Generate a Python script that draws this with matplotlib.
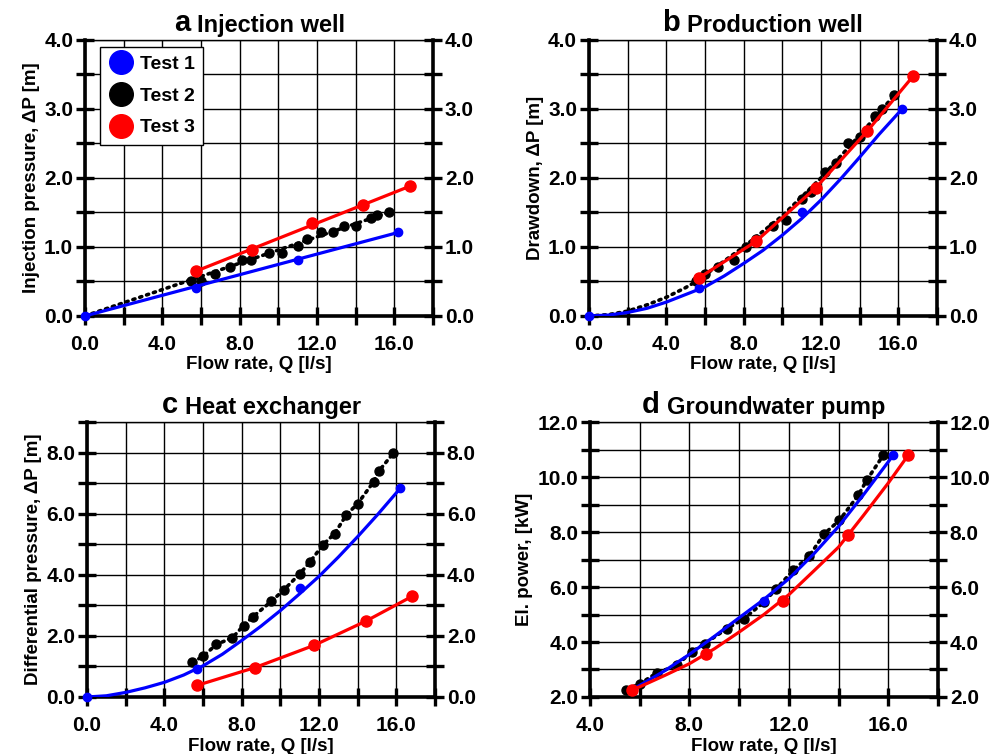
import numpy as np
import matplotlib
matplotlib.use('Agg')
import matplotlib.pyplot as plt
from matplotlib.ticker import MultipleLocator, FormatStrFormatter
from matplotlib.lines import Line2D

plt.rcParams['font.family'] = ['Liberation Sans', 'DejaVu Sans']
plt.rcParams['font.weight'] = 'bold'
plt.rcParams['axes.labelweight'] = 'bold'

# a - injection well (measured points)
a_q1 = [0.0, 5.75, 11.0, 16.2]
a_p1 = [0.0, 0.40, 0.81, 1.21]
a_q2 = [5.5, 6.0, 6.7, 7.5, 8.1, 8.6, 9.5, 10.2, 11.0, 11.5, 12.2, 12.8, 13.4, 14.0, 14.8, 15.1, 15.7]
a_p2 = [0.51, 0.51, 0.61, 0.71, 0.81, 0.81, 0.91, 0.91, 1.01, 1.11, 1.21, 1.21, 1.30, 1.30, 1.42, 1.46, 1.51]
a_q3 = [5.75, 8.66, 11.75, 14.4, 16.8]
a_p3 = [0.65, 0.96, 1.35, 1.61, 1.88]
# a - fitted lines
a_fq1, a_fp1 = [0.0, 16.2], [0.0, 1.21]
a_fq2, a_fp2 = [0.0, 15.7], [0.0, 1.50]
a_fq3, a_fp3 = [5.75, 16.8], [0.65, 1.88]

# b - production well
b_q1 = [0.0, 5.71, 11.0, 16.2]
b_p1 = [0.0, 0.40, 1.51, 3.0]
b_q2 = [5.54, 6.02, 6.7, 7.5, 8.1, 8.64, 9.5, 10.2, 11.0, 11.5, 12.2, 12.8, 13.4, 14.0, 14.8, 15.15, 15.8]
b_p2 = [0.50, 0.61, 0.715, 0.81, 1.0, 1.11, 1.30, 1.39, 1.70, 1.80, 2.09, 2.21, 2.5, 2.6, 2.9, 3.0, 3.2]
b_q3 = [5.71, 8.64, 11.74, 14.4, 16.78]
b_p3 = [0.555, 1.08, 1.86, 2.68, 3.48]
b_fq1 = [0, 1, 2, 3, 4, 5, 6, 7, 8, 9, 10, 11, 12, 13, 14, 15, 16.2]
b_fp1 = [0, 0.012, 0.05, 0.11, 0.2, 0.31, 0.42, 0.58, 0.76, 0.95, 1.17, 1.41, 1.68, 1.98, 2.3, 2.63, 3.0]
b_fq2 = [0, 1, 2, 3, 4, 5, 5.54, 8, 10, 12, 14, 15.8]
b_fp2 = [0, 0.018, 0.07, 0.16, 0.27, 0.41, 0.5, 1.0, 1.45, 2.0, 2.62, 3.2]
b_fq3, b_fp3 = b_q3, b_p3

# c - heat exchanger
c_q1 = [0.0, 5.69, 11.03, 16.2]
c_p1 = [0.0, 0.92, 3.57, 6.83]
c_q2 = [5.45, 6.0, 6.69, 7.52, 8.1, 8.59, 9.53, 10.17, 11.0, 11.52, 12.2, 12.81, 13.41, 14.0, 14.83, 15.1, 15.83]
c_p2 = [1.14, 1.33, 1.72, 1.94, 2.34, 2.63, 3.13, 3.50, 4.03, 4.41, 4.98, 5.35, 5.96, 6.33, 7.05, 7.40, 7.97]
c_q3 = [5.69, 8.67, 11.74, 14.41, 16.83]
c_p3 = [0.38, 0.96, 1.69, 2.48, 3.30]
c_fq1 = [0, 1, 2, 3, 4, 5, 5.69, 6, 7, 8, 9, 10, 11, 12, 13, 14, 15, 16.2]
c_fp1 = [0, 0.04, 0.15, 0.3, 0.48, 0.72, 0.93, 1.02, 1.4, 1.85, 2.32, 2.83, 3.38, 3.95, 4.58, 5.25, 5.95, 6.83]
c_fq2, c_fp2 = c_q2, c_p2
c_fq3, c_fp3 = c_q3, c_p3

# d - groundwater pump
d_q1 = [5.68, 11.01, 16.2]
d_p1 = [2.27, 5.49, 10.79]
d_q2 = [5.47, 6.01, 6.68, 7.49, 8.09, 8.62, 9.5, 10.2, 11.0, 11.5, 12.18, 12.82, 13.41, 14.03, 14.79, 15.13, 15.8]
d_p2 = [2.27, 2.48, 2.87, 3.15, 3.64, 3.94, 4.48, 4.85, 5.45, 5.94, 6.61, 7.12, 7.92, 8.42, 9.33, 9.88, 10.79]
d_q3 = [5.68, 8.65, 11.75, 14.39, 16.8]
d_p3 = [2.27, 3.58, 5.49, 7.88, 10.79]
d_fq1 = [5.68, 6, 7, 8, 9, 10, 11, 12, 13, 14, 15, 16.2]
d_fp1 = [2.27, 2.42, 2.95, 3.55, 4.2, 4.88, 5.55, 6.3, 7.2, 8.2, 9.35, 10.79]
d_fq2, d_fp2 = d_q2, d_p2
d_fq3 = [5.68, 6, 7, 8, 9, 10, 11, 12, 13, 14, 15, 16, 16.8]
d_fp3 = [2.27, 2.37, 2.78, 3.21, 3.75, 4.36, 5.0, 5.72, 6.58, 7.45, 8.6, 9.78, 10.79]

panels = [
    ('a', 'Injection well', 'Injection pressure, ΔP [m]', (0, 18), (0, 4), 4, 1.0,
     [a_q1, a_p1, a_fq1, a_fp1], [a_q2, a_p2, a_fq2, a_fp2], [a_q3, a_p3, a_fq3, a_fp3]),
    ('b', 'Production well', 'Drawdown, ΔP [m]', (0, 18), (0, 4), 4, 1.0,
     [b_q1, b_p1, b_fq1, b_fp1], [b_q2, b_p2, b_fq2, b_fp2], [b_q3, b_p3, b_fq3, b_fp3]),
    ('c', 'Heat exchanger', 'Differential pressure, ΔP [m]', (0, 18), (0, 9), 4, 2.0,
     [c_q1, c_p1, c_fq1, c_fp1], [c_q2, c_p2, c_fq2, c_fp2], [c_q3, c_p3, c_fq3, c_fp3]),
    ('d', 'Groundwater pump', 'El. power, [kW]', (4, 18), (2, 12), 4, 2.0,
     [d_q1, d_p1, d_fq1, d_fp1], [d_q2, d_p2, d_fq2, d_fp2], [d_q3, d_p3, d_fq3, d_fp3]),
]

positions = [[0.0846, 0.581, 0.3463, 0.366],
             [0.586, 0.581, 0.3463, 0.366],
             [0.0866, 0.0756, 0.3463, 0.3647],
             [0.587, 0.0756, 0.3463, 0.3647]]

fig = plt.figure(figsize=(10.05, 7.54), dpi=100)

for pos, (letter, title, ylabel, xlim, ylim, xmaj, ymaj, t1, t2, t3) in zip(positions, panels):
    ax = fig.add_axes(pos)
    # Test 2 (black, dotted)
    ax.plot(t2[2], t2[3], color='black', lw=2.6, linestyle=(0, (0.6, 1.4)),
            dash_capstyle='round', zorder=3)
    ax.plot(t2[0], t2[1], 'o', color='black', ms=6.5, zorder=4, clip_on=False)
    # Test 1 (blue)
    ax.plot(t1[2], t1[3], color='blue', lw=2.3, zorder=5)
    ax.plot(t1[0], t1[1], 'o', color='blue', ms=6, zorder=5, clip_on=False)
    # Test 3 (red)
    ax.plot(t3[2], t3[3], color='red', lw=2.3, zorder=6)
    ax.plot(t3[0], t3[1], 'o', color='red', ms=8, zorder=6, clip_on=False)

    ax.set_xlim(*xlim)
    ax.set_ylim(*ylim)
    ax.xaxis.set_major_locator(MultipleLocator(xmaj))
    ax.xaxis.set_minor_locator(MultipleLocator(xmaj / 2))
    ax.yaxis.set_major_locator(MultipleLocator(ymaj))
    ax.yaxis.set_minor_locator(MultipleLocator(ymaj / 2))
    ax.xaxis.set_major_formatter(FormatStrFormatter('%.1f'))
    ax.yaxis.set_major_formatter(FormatStrFormatter('%.1f'))
    ax.grid(True, which='both', color='black', lw=1.0, zorder=1)
    ax.set_axisbelow(True)
    ax.tick_params(which='both', direction='inout', length=13, width=2.4,
                   left=True, right=True, top=False, bottom=True,
                   labelright=True, labelsize=15)
    ax.tick_params(axis='x', pad=7)
    ax.tick_params(axis='y', pad=2)
    for s in ['left', 'right', 'bottom']:
        ax.spines[s].set_linewidth(2.6)
    ax.spines['top'].set_linewidth(1.0)

    ax.set_xlabel('Flow rate, Q [l/s]', fontsize=13.5, labelpad=2)
    ax.set_ylabel(ylabel, fontsize=13.5, labelpad=3)

    # panel letter sits left of the title, the pair centred over the axes
    ttl = ax.set_title(title, fontsize=17, fontweight='bold', pad=6, x=0.535)
    ax.annotate(letter, xy=(0, 0), xycoords=ttl, xytext=(-5, 0),
                textcoords='offset points', ha='right', va='bottom',
                fontsize=21, fontweight='bold')

    if letter == 'a':
        handles = [Line2D([], [], marker='o', ls='none', color=c, ms=17)
                   for c in ['blue', 'black', 'red']]
        leg = ax.legend(handles, ['Test 1', 'Test 2', 'Test 3'], loc='upper left',
                        bbox_to_anchor=(0.043, 0.975), fontsize=14, frameon=True,
                        fancybox=False, framealpha=1, edgecolor='black',
                        handletextpad=0.3, borderpad=0.45, labelspacing=0.72,
                        handlelength=1.3, borderaxespad=0)
        leg.get_frame().set_linewidth(1.0)
        leg.set_zorder(10)

fig.savefig('out.png', dpi=100)
